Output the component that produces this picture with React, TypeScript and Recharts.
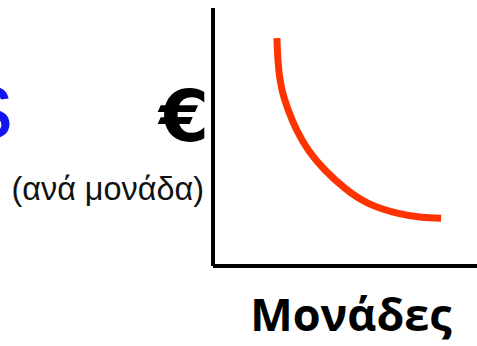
import React from 'react';
import { LineChart, Line, XAxis, YAxis, Label } from 'recharts';

const units = [24.2, 24.7, 26.0, 28.5, 31.7, 36.1, 42.4, 50.0, 58.8, 70.2, 79.0, 86.4];
const costPerUnit = [88.3, 78.6, 68.9, 60.5, 52.7, 45.0, 37.2, 30.1, 24.3, 20.4, 18.9, 18.5];
const xTitle = 'Μονάδες';
const yTitle = '€';
const ySubTitle = '(ανά μονάδα)';
const leftWord = 's';

const data = units.map((u, i) => ({ u, c: costPerUnit[i] }));

const YLabel = (props: any) => {
  const vb = props.viewBox || {};
  const x = vb.x + (vb.width || 0);
  const y = vb.y;
  return (
    <g>
      <text x={13} y={y + 130} textAnchor="end" fill="#1414F0" fontFamily="Liberation Sans, Arial, sans-serif" fontSize={96}>
        {leftWord}
      </text>
      <text x={x - 4} y={y + 133} textAnchor="end" fill="#000" fontWeight="bold" fontFamily="DejaVu Sans, sans-serif" fontSize={72}>
        {yTitle}
      </text>
      <text x={x - 9} y={y + 191.5} textAnchor="end" fill="#111" fontFamily="Liberation Sans, Arial, sans-serif" fontSize={32.4}>
        {ySubTitle}
      </text>
    </g>
  );
};

const XLabel = (props: any) => {
  const vb = props.viewBox || {};
  const cx = vb.x + vb.width / 2 + 6;
  return (
    <text x={cx} y={vb.y + 65} textAnchor="middle" fill="#000" fontWeight="bold" fontFamily="Open Sans, Noto Sans, sans-serif" fontSize={45}>
      {xTitle}
    </text>
  );
};

export default function App() {
  return (
    <div style={{ position: 'absolute', left: 0, top: 0, background: '#fff' }}>
      <LineChart width={477} height={346} data={data} margin={{ top: 8, right: 0, bottom: 79, left: 212 }}>
        <XAxis
          dataKey="u"
          type="number"
          domain={[0, 100]}
          tick={false}
          tickLine={false}
          height={1}
          axisLine={{ stroke: '#000', strokeWidth: 4 }}
        >
          <Label content={<XLabel />} />
        </XAxis>
        <YAxis
          type="number"
          domain={[0, 100]}
          tick={false}
          tickLine={false}
          width={1}
          axisLine={{ stroke: '#000', strokeWidth: 4 }}
        >
          <Label content={<YLabel />} />
        </YAxis>
        <Line
          dataKey="c"
          type="natural"
          stroke="#FF3300"
          strokeWidth={7}
          dot={false}
          activeDot={false}
          isAnimationActive={false}
        />
      </LineChart>
    </div>
  );
}
